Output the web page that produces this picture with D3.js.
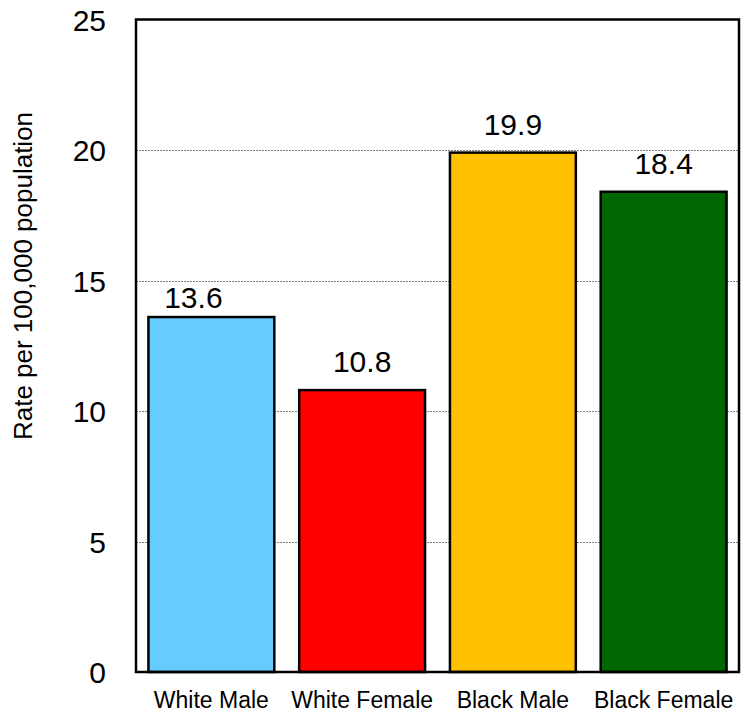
<!DOCTYPE html>
<html>
<head>
<meta charset="utf-8">
<script src="https://cdn.jsdelivr.net/npm/d3@7"></script>
<style>
  html, body { margin: 0; padding: 0; background: #fff; }
  svg { display: block; font-family: "Liberation Sans", Arial, sans-serif; }
</style>
</head>
<body>
<svg id="chart" width="747" height="712"></svg>
<script>
// ---- data ----
const categories = ["White Male", "White Female", "Black Male", "Black Female"];
const values = [13.6, 10.8, 19.9, 18.4];
const valueLabels = ["13.6", "10.8", "19.9", "18.4"];
const yTicks = [0, 5, 10, 15, 20, 25];
const gridTicks = [5, 10, 15, 20];
const barColors = ["#66CCFF", "#FF0000", "#FFC000", "#006600"];
const yTitle = "Rate per 100,000 population";

// ---- layout ----
const plotLeft = 136, plotRight = 739, plotTop = 19.5, plotBottom = 672;
// manual nudge of one data label (as in the source chart)
const labelNudge = { "White Male": [-18, 9] };

const svg = d3.select("#chart");

const x = d3.scaleBand()
  .domain(categories)
  .range([plotLeft, plotRight])
  .paddingInner(0.165)
  .paddingOuter(0.0825);

const y = d3.scaleLinear().domain([0, 25]).range([plotBottom, plotTop]);

// gridlines
svg.append("g").selectAll("line")
  .data(gridTicks)
  .join("line")
  .attr("x1", plotLeft).attr("x2", plotRight)
  .attr("y1", d => Math.round(y(d)) + 0.5).attr("y2", d => Math.round(y(d)) + 0.5)
  .attr("stroke", "#7f7f7f")
  .attr("stroke-width", 1)
  .attr("stroke-dasharray", "2,1");

const data = categories.map((c, i) => ({ c, v: values[i], label: valueLabels[i], color: barColors[i] }));

// bars
svg.append("g").selectAll("rect")
  .data(data)
  .join("rect")
  .attr("x", d => x(d.c))
  .attr("y", d => y(d.v))
  .attr("width", x.bandwidth())
  .attr("height", d => y(0) - y(d.v))
  .attr("fill", d => d.color)
  .attr("stroke", "#000")
  .attr("stroke-width", 2.5);

// plot frame
svg.append("rect")
  .attr("x", plotLeft).attr("y", plotTop)
  .attr("width", plotRight - plotLeft).attr("height", plotBottom - plotTop)
  .attr("fill", "none")
  .attr("stroke", "#000")
  .attr("stroke-width", 2.5);

// value labels
svg.append("g").selectAll("text")
  .data(data)
  .join("text")
  .attr("x", d => x(d.c) + x.bandwidth() / 2 + (labelNudge[d.c] ? labelNudge[d.c][0] : 0))
  .attr("y", d => y(d.v) - 18 + (labelNudge[d.c] ? labelNudge[d.c][1] : 0))
  .attr("text-anchor", "middle")
  .attr("font-size", 30)
  .attr("fill", "#000")
  .text(d => d.label);

// y axis labels
const yAxis = d3.axisLeft(y).tickValues(yTicks).tickSize(0).tickPadding(30).tickFormat(d3.format("d"));
const yg = svg.append("g").attr("transform", `translate(${plotLeft},0)`).call(yAxis);
yg.select(".domain").remove();
yg.selectAll("text").attr("font-size", 30).attr("font-family", "Liberation Sans, Arial, sans-serif").attr("fill", "#000").attr("dy", "0.35em");

// x axis labels
const xAxis = d3.axisBottom(x).tickSize(0).tickPadding(20);
const xg = svg.append("g").attr("transform", `translate(0,${plotBottom})`).call(xAxis);
xg.select(".domain").remove();
xg.selectAll("text").attr("font-size", 23).attr("font-family", "Liberation Sans, Arial, sans-serif").attr("fill", "#000");

// y title
svg.append("text")
  .attr("transform", "translate(32,276) rotate(-90)")
  .attr("text-anchor", "middle")
  .attr("font-size", 26)
  .attr("fill", "#000")
  .text(yTitle);
</script>
</body>
</html>
